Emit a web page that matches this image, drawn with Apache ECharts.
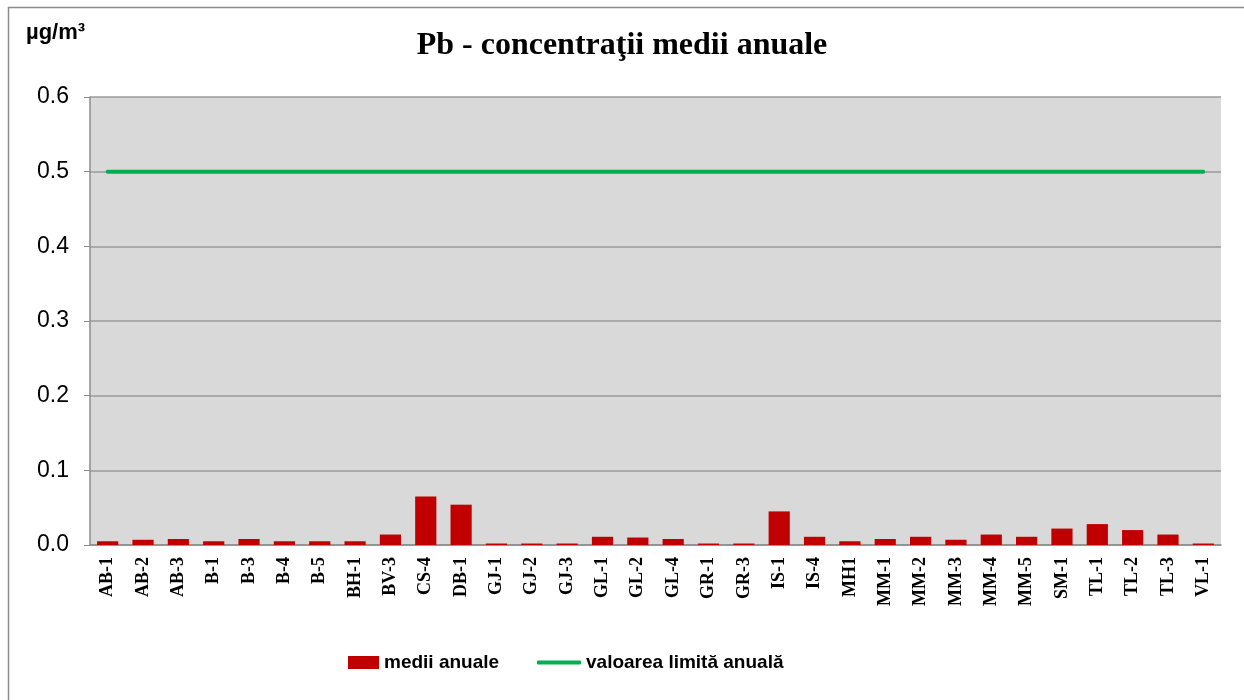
<!DOCTYPE html>
<html>
<head>
<meta charset="utf-8">
<script src="https://cdn.jsdelivr.net/npm/echarts@6/dist/echarts.min.js"></script>
<style>
  html, body { margin: 0; padding: 0; background: #fff; }
  #chart { width: 1244px; height: 700px; }
</style>
</head>
<body>
<div id="chart"></div>
<script>
const stations = ['AB-1', 'AB-2', 'AB-3', 'B-1', 'B-3', 'B-4', 'B-5', 'BH-1', 'BV-3', 'CS-4', 'DB-1',
  'GJ-1', 'GJ-2', 'GJ-3', 'GL-1', 'GL-2', 'GL-4', 'GR-1', 'GR-3', 'IS-1', 'IS-4', 'MH1',
  'MM-1', 'MM-2', 'MM-3', 'MM-4', 'MM-5', 'SM-1', 'TL-1', 'TL-2', 'TL-3', 'VL-1']
const annualMeans = [0.005, 0.007, 0.008, 0.005, 0.008, 0.005, 0.005, 0.005, 0.014, 0.065, 0.054,
  0.002, 0.002, 0.002, 0.011, 0.010, 0.008, 0.002, 0.002, 0.045, 0.011, 0.005,
  0.008, 0.011, 0.007, 0.014, 0.011, 0.022, 0.028, 0.020, 0.014, 0.002]
const limitValue = stations.map(() => 0.5)

const chart = echarts.init(document.getElementById('chart'))

const legendText = { fontFamily: 'Liberation Sans', fontWeight: 'bold', fontSize: 19, color: '#000' }

const option = {
  backgroundColor: '#fff',
  animation: false,
  title: [
    {
      text: 'Pb - concentraţii medii anuale',
      left: 'center',
      top: 25,
      textStyle: { fontFamily: 'Liberation Serif', fontWeight: 'bold', fontSize: 32, color: '#000' }
    },
    {
      text: 'µg/m³',
      left: 21,
      top: 17,
      textStyle: { fontFamily: 'Liberation Sans', fontWeight: 'bold', fontSize: 22, color: '#000' }
    }
  ],
  graphic: [
    {
      type: 'rect',
      shape: { x: 8.5, y: 7.5, width: 1240, height: 700 },
      style: { fill: 'none', stroke: '#8c8c8c', lineWidth: 1.5 },
      silent: true
    }
  ],
  legend: [
    {
      data: ['medii anuale'],
      icon: 'rect',
      left: 343,
      top: 648,
      itemWidth: 31,
      itemHeight: 13,
      textStyle: legendText
    },
    {
      data: ['valoarea limită anuală'],
      icon: 'roundRect',
      left: 532,
      top: 648,
      itemWidth: 44,
      itemHeight: 4,
      textStyle: legendText
    }
  ],
  grid: {
    left: 90,
    right: 23,
    top: 97,
    bottom: 155,
    show: true,
    backgroundColor: '#d9d9d9',
    borderWidth: 0
  },
  xAxis: {
    type: 'category',
    data: stations,
    axisLine: { lineStyle: { color: '#8c8c8c', width: 1.5 } },
    axisTick: { show: false },
    axisLabel: {
      rotate: 90,
      interval: 0,
      margin: 12,
      color: '#000',
      fontFamily: 'Liberation Serif',
      fontWeight: 'bold',
      fontSize: 18
    }
  },
  yAxis: {
    type: 'value',
    min: 0,
    max: 0.6,
    interval: 0.1,
    axisLine: { show: true, lineStyle: { color: '#8c8c8c', width: 1.5 } },
    axisTick: { show: true, length: 6, lineStyle: { color: '#8c8c8c' } },
    splitLine: { lineStyle: { color: '#9a9a9a', width: 1.5 } },
    axisLabel: {
      color: '#000',
      fontFamily: 'Liberation Sans',
      fontSize: 23,
      margin: 21,
      formatter: (v) => v.toFixed(1)
    }
  },
  series: [
    {
      name: 'medii anuale',
      type: 'bar',
      data: annualMeans,
      barWidth: '60%',
      itemStyle: { color: '#c00000' }
    },
    {
      name: 'valoarea limită anuală',
      type: 'line',
      data: limitValue,
      symbol: 'none',
      lineStyle: { color: '#00b050', width: 4, cap: 'round' },
      itemStyle: { color: '#00b050' }
    }
  ]
}

chart.setOption(option)
</script>
</body>
</html>
